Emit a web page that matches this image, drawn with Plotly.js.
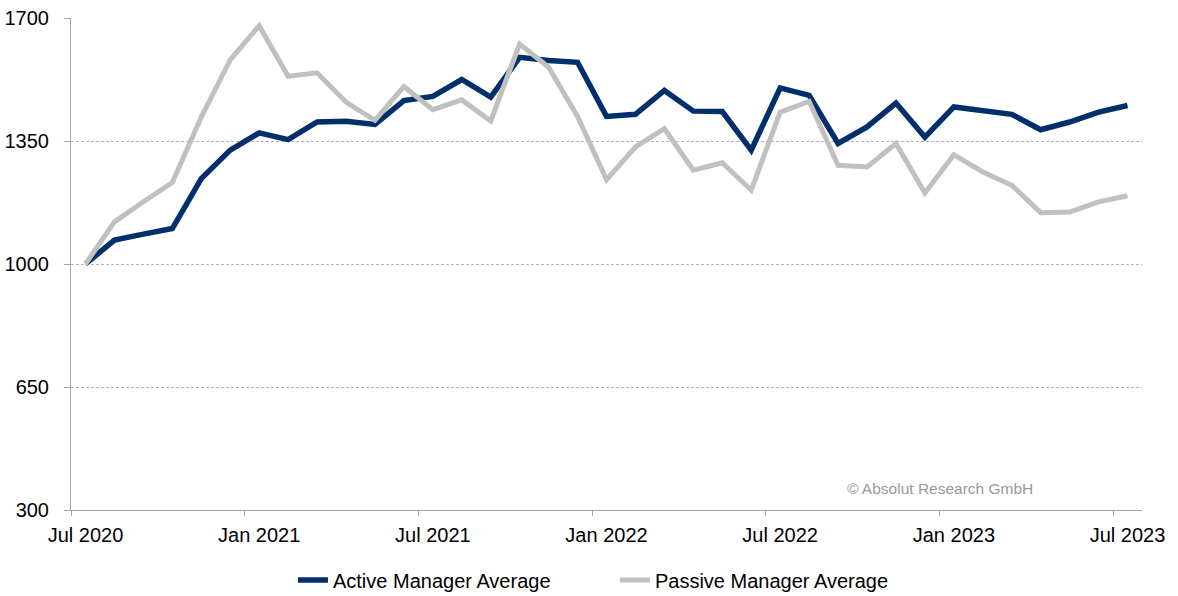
<!DOCTYPE html>
<html>
<head>
<meta charset="utf-8">
<script src="https://cdn.plot.ly/plotly-3.0.1.min.js"></script>
<style>
html,body{margin:0;padding:0;background:#fff;}
#chart{width:1178px;height:596px;}
</style>
</head>
<body>
<div id="chart"></div>
<script>
const months = [
  "Jul 2020","Aug 2020","Sep 2020","Oct 2020","Nov 2020","Dec 2020",
  "Jan 2021","Feb 2021","Mar 2021","Apr 2021","May 2021","Jun 2021",
  "Jul 2021","Aug 2021","Sep 2021","Oct 2021","Nov 2021","Dec 2021",
  "Jan 2022","Feb 2022","Mar 2022","Apr 2022","May 2022","Jun 2022",
  "Jul 2022","Aug 2022","Sep 2022","Oct 2022","Nov 2022","Dec 2022",
  "Jan 2023","Feb 2023","Mar 2023","Apr 2023","May 2023","Jun 2023",
  "Jul 2023"
];
const activeAvg = [
  1000,1068,1085,1101,1243,1324,
  1373,1354,1404,1406,1397,1465,
  1477,1525,1475,1588,1579,1574,
  1420,1426,1494,1435,1434,1324,
  1501,1480,1343,1390,1458,1361,
  1447,1437,1426,1382,1404,1432,
  1451
];
const passiveAvg = [
  1000,1120,1177,1232,1418,1581,
  1678,1534,1544,1461,1409,1505,
  1439,1467,1407,1626,1560,1420,
  1240,1333,1385,1267,1288,1210,
  1432,1463,1281,1276,1343,1202,
  1311,1262,1224,1146,1148,1177,
  1194
];
const seriesNames = ["Active Manager Average","Passive Manager Average"];
const yTicks = [300,650,1000,1350,1700];
const watermark = "© Absolut Research GmbH";

const font = "Liberation Sans, Arial, sans-serif";

const traces = [
  {x: months, y: activeAvg, name: seriesNames[0], type: "scatter", mode: "lines",
   line: {color: "#002f6c", width: 5.5}},
  {x: months, y: passiveAvg, name: seriesNames[1], type: "scatter", mode: "lines",
   line: {color: "#c0c0c0", width: 5}}
];

const layout = {
  width: 1178, height: 596,
  margin: {l: 70.7, r: 35.5, t: 17.7, b: 86, autoexpand: false},
  paper_bgcolor: "#fff", plot_bgcolor: "#fff",
  font: {family: font, size: 20, color: "#000"},
  showlegend: true,
  legend: {orientation: "h", xref: "container", yref: "container",
           x: 0.2487, xanchor: "left", y: 0.027, yanchor: "middle",
           entrywidth: 277, entrywidthmode: "pixels",
           font: {family: font, size: 20, color: "#000"}, itemwidth: 30, traceorder: "normal"},
  xaxis: {
    type: "category", tickmode: "linear", tick0: 0, dtick: 6,
    tickson: "boundaries", range: [-0.5, 36.5], tickangle: 0, automargin: false,
    showline: true, linecolor: "#a6a6a6", linewidth: 1,
    ticks: "outside", ticklen: 5, tickcolor: "#a6a6a6", tickwidth: 1,
    showgrid: false, zeroline: false,
    tickfont: {family: font, size: 20, color: "#000"},
    ticklabelstandoff: 7
  },
  yaxis: {
    range: [300, 1700], tickmode: "array", tickvals: yTicks, ticktext: yTicks.map(String),
    automargin: false,
    showline: true, linecolor: "#a6a6a6", linewidth: 1,
    ticks: "outside", ticklen: 6, tickcolor: "#a6a6a6", tickwidth: 1,
    showgrid: true, gridcolor: "#b4b4b4", gridwidth: 1, griddash: "3px,2px",
    zeroline: false,
    tickfont: {family: font, size: 20, color: "#000"},
    ticklabelstandoff: 11
  },
  annotations: [{
    text: watermark, xref: "paper", yref: "paper", x: 0.8997, y: 0.0427,
    xanchor: "right", yanchor: "middle", showarrow: false,
    font: {family: font, size: 15.5, color: "#999999"}
  }]
};

Plotly.newPlot("chart", traces, layout, {displayModeBar: false, staticPlot: true});
</script>
</body>
</html>
